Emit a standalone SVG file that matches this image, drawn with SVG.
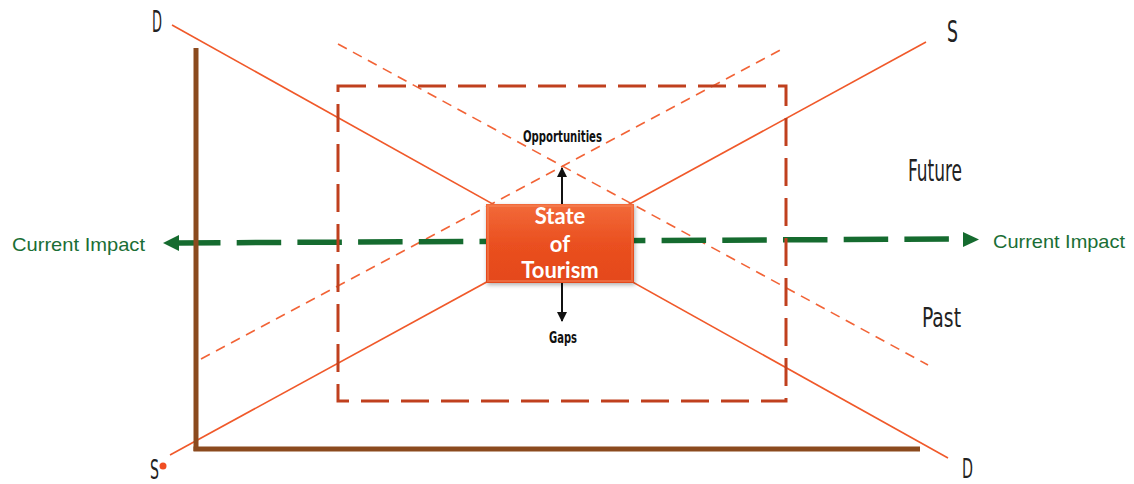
<svg xmlns="http://www.w3.org/2000/svg" width="1134" height="484" viewBox="0 0 1134 484">
<style>
.solid{stroke:#f0592a;stroke-width:1.6;fill:none}
.thin{stroke:#f26336;stroke-width:1.6;fill:none;stroke-dasharray:10 7}
.axis{stroke:#8b4a1e;stroke-width:5;fill:none}
.frame{stroke:#c0401e;stroke-width:3;fill:none;stroke-dasharray:28 12}
.green{stroke:#156b2f;stroke-width:5.5;fill:none;stroke-dasharray:44.5 16.2}
.lbl{font-family:"DejaVu Sans Condensed","DejaVu Sans",sans-serif;fill:#222;font-stretch:condensed}
.gt{font-family:"Liberation Sans",Arial,sans-serif;font-size:19px;fill:#1a6e35}
.bt{font-family:Lato,"Open Sans",sans-serif;font-size:22px;font-weight:bold;fill:#fff;text-anchor:middle}
.sm{font-family:"DejaVu Sans Condensed","DejaVu Sans",sans-serif;font-weight:bold;font-size:15px;fill:#111}
</style>
<defs>
<linearGradient id="bg" x1="0" y1="0" x2="0" y2="1">
<stop offset="0" stop-color="#f26a3a"/>
<stop offset="0.5" stop-color="#ea5020"/>
<stop offset="1" stop-color="#e4481b"/>
</linearGradient>
<marker id="ah" viewBox="0 0 10 10" refX="9" refY="5" markerWidth="5" markerHeight="5" orient="auto">
<path d="M0,0 L10,5 L0,10 Z" fill="#111"/>
</marker>
<filter id="sh" x="-10%" y="-10%" width="120%" height="130%">
<feDropShadow dx="1" dy="2" stdDeviation="2" flood-color="#000" flood-opacity="0.3"/>
</filter>
</defs>
<g id="connectors">
<line class="solid" x1="172" y1="25" x2="948" y2="458"/>
<line class="solid" x1="170" y1="455" x2="926" y2="42"/>
<line class="thin" x1="338" y1="44" x2="928" y2="365"/>
<line class="thin" x1="201" y1="359" x2="786" y2="47"/>
<path class="green" d="M176,243 L949,239"/>
<polygon points="163,243 179,235 179,251" fill="#156b2f"/>
<polygon points="963,232 979,239.5 963,247" fill="#156b2f"/>
<line class="axis" x1="196" y1="48" x2="196" y2="451"/>
<line class="axis" x1="193.5" y1="449" x2="920" y2="449"/>
<rect class="frame" x="338" y="86" width="448" height="315"/>
<line x1="562" y1="204" x2="562" y2="168" stroke="#111" stroke-width="2" marker-end="url(#ah)"/>
<line x1="562" y1="283" x2="562" y2="321" stroke="#111" stroke-width="2" marker-end="url(#ah)"/>
</g>
<g id="state-of-tourism">
<rect x="486" y="204" width="148" height="79" fill="url(#bg)" filter="url(#sh)"/>
<rect x="488" y="206" width="144" height="75" fill="none" stroke="#f58a5e" stroke-opacity="0.5" stroke-width="2"/>
<text class="bt" x="560" y="224">State</text>
<text class="bt" x="560" y="252">of</text>
<text class="bt" x="560" y="278">Tourism</text>
</g>
<g id="opportunities"><text class="sm" x="523" y="142" textLength="79" lengthAdjust="spacingAndGlyphs">Opportunities</text></g>
<g id="gaps"><text class="sm" x="549" y="343" textLength="28" lengthAdjust="spacingAndGlyphs">Gaps</text></g>
<g id="label-d-top"><text class="lbl" x="152" y="32" font-size="30" textLength="10" lengthAdjust="spacingAndGlyphs">D</text></g>
<g id="label-s-top"><text class="lbl" x="947" y="42" font-size="30" textLength="11" lengthAdjust="spacingAndGlyphs">S</text></g>
<g id="label-s-bottom"><text class="lbl" x="150" y="479" font-size="27" textLength="9" lengthAdjust="spacingAndGlyphs">S</text><circle cx="163" cy="466" r="3.5" fill="#f04e23"/></g>
<g id="label-d-bottom"><text class="lbl" x="962" y="478" font-size="27" textLength="11" lengthAdjust="spacingAndGlyphs">D</text></g>
<g id="future"><text class="lbl" x="908" y="181" font-size="30" textLength="54" lengthAdjust="spacingAndGlyphs">Future</text></g>
<g id="past"><text class="lbl" x="922" y="327" font-size="27" textLength="39" lengthAdjust="spacingAndGlyphs">Past</text></g>
<g id="current-impact-left"><text class="gt" x="12" y="251" textLength="133" lengthAdjust="spacingAndGlyphs">Current Impact</text></g>
<g id="current-impact-right"><text class="gt" x="993" y="248" textLength="132" lengthAdjust="spacingAndGlyphs">Current Impact</text></g>
</svg>
